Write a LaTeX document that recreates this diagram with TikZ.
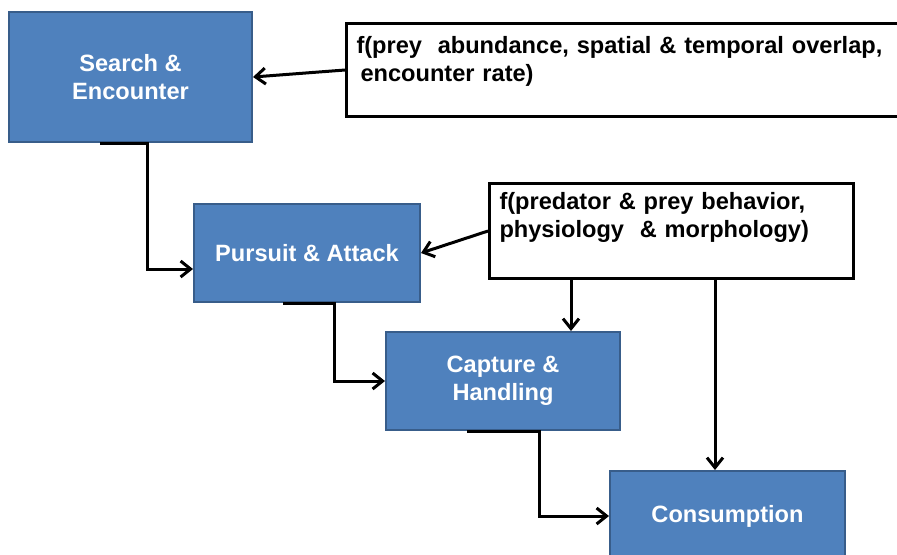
\documentclass[tikz,border=0pt]{standalone}
\usepackage{fontspec}
\setmainfont{Liberation Sans}
\usetikzlibrary{arrows.meta}
\definecolor{stageblue}{HTML}{4F81BD}
\definecolor{stageedge}{HTML}{385D8A}

\begin{document}
\begin{tikzpicture}[x=0.5pt,y=-0.5pt,
    font=\fontsize{11.8}{14}\selectfont\bfseries,
    stage/.style={draw=stageedge,line width=1pt,fill=stageblue,text=white,align=center,inner sep=0pt},
    factor/.style={draw=black,line width=1.5pt,fill=white,anchor=north west,align=left,inner xsep=5pt,inner ysep=4pt},
    link/.style={line width=1.5pt,-{Straight Barb[length=5pt,width=8pt]}}]

    \useasboundingbox (0,0) rectangle (897,554);
    \fill[white] (0,0) rectangle (897,554);

    % --------------------------------------------------------- %
    % ------------- predation stages
    % --------------------------------------------------------- %
    \node[stage,minimum width=121.5pt,minimum height=65pt] (search) at (130.5,77) {Search \&\\Encounter};
    \node[stage,minimum width=113pt,minimum height=49pt] (pursuit) at (307,253) {Pursuit \& Attack};
    \node[stage,minimum width=117pt,minimum height=49pt] (capture) at (503,381) {Capture \&\\Handling};
    \node[stage,minimum width=117.5pt,minimum height=45pt] (consum) at (727.5,516) {Consumption};

    % --------------------------------------------------------- %
    % ------------- factors
    % --------------------------------------------------------- %
    % --- prey node
    \node[factor,text width=270pt,text height=11pt,text depth=27.5pt] (prey) at (345,22) {f(prey\ \ abundance, spatial \& temporal overlap,\\\hspace*{2pt}encounter rate)};
    \draw[link] (prey.west) -- (search.east);
    % --- predator node
    \node[factor,text width=172pt,text height=9pt,text depth=30.5pt] (predator) at (488,182) {f(predator \& prey behavior,\\physiology\ \ \& morphology)};
    \draw[link] (predator.west) -- (pursuit.east);
    \coordinate (tap1) at ([xshift=41.5pt]predator.south west);
    \coordinate (tap2) at ([xshift=113.5pt]predator.south west);
    \draw[link] (tap1) -- (tap1 |- capture.north);
    \draw[link] (tap2) -- (tap2 |- consum.north);

    % --------------------------------------------------------- %
    % ------------- stage to stage
    % --------------------------------------------------------- %
    \draw[link] ([xshift=-15.25pt]search.south) -- ++(23.5pt,0) |- ([yshift=-8pt]pursuit.west);
    \draw[link] ([xshift=-12pt]pursuit.south) -- ++(25.5pt,0) |- (capture.west);
    \draw[link] ([xshift=-18pt]capture.south) -- ++(36pt,0) |- (consum.west);

\end{tikzpicture}
\end{document}
